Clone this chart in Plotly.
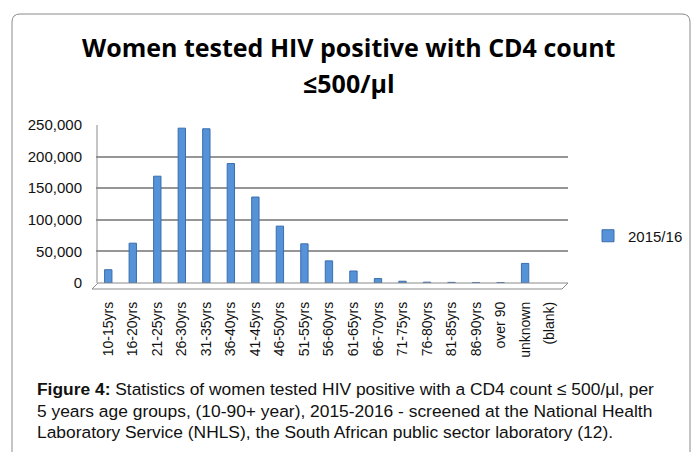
import plotly.graph_objects as go

categories = ["10-15yrs", "16-20yrs", "21-25yrs", "26-30yrs", "31-35yrs", "36-40yrs",
              "41-45yrs", "46-50yrs", "51-55yrs", "56-60yrs", "61-65yrs", "66-70yrs",
              "71-75yrs", "76-80yrs", "81-85yrs", "86-90yrs", "over 90", "unknown", "(blank)"]
values_2015_16 = [21000, 63000, 169000, 245000, 244000, 189000, 136000, 90000, 62000,
                  35000, 19000, 7000, 2800, 1300, 1000, 700, 600, 31000, 0]
series_name = "2015/16"
y_ticks = [0, 50000, 100000, 150000, 200000, 250000]
y_tick_labels = ["0", "50,000", "100,000", "150,000", "200,000", "250,000"]

W, H = 697, 452
L, R = 96, 568      # plot area pixel extents
T, B = 125, 283


def px(x):
    return (x - L) / (R - L)


def py(y):
    return (B - y) / (B - T)


fig = go.Figure()
fig.add_trace(go.Bar(
    x=list(range(len(categories))), y=values_2015_16, name=series_name,
    marker=dict(color="#5592D8",
                line=dict(color="#3A6EAE", width=[1 if v > 0 else 0 for v in values_2015_16])),
    width=0.3,
))

shapes = []
# outer rounded border
r = 8
x0, x1, y0, y1 = 12, 690, 14, 470
path = (f"M {px(x0)},{py(y1)} L {px(x0)},{py(y0 + r)} "
        f"Q {px(x0)},{py(y0)} {px(x0 + r)},{py(y0)} "
        f"L {px(x1 - r)},{py(y0)} Q {px(x1)},{py(y0)} {px(x1)},{py(y0 + r)} "
        f"L {px(x1)},{py(y1)}")
shapes.append(dict(type="path", xref="paper", yref="paper", path=path,
                   line=dict(color="#8a8a8a", width=1)))
# 3D floor
floor = (f"M {px(92)},{py(289)} L {px(562)},{py(289)} L {px(568)},{py(283)} "
         f"L {px(98)},{py(283)} Z")
shapes.append(dict(type="path", xref="paper", yref="paper", path=floor,
                   line=dict(color="#8a8a8a", width=1), fillcolor="rgba(0,0,0,0)"))
# left wall edge
shapes.append(dict(type="line", xref="paper", yref="paper",
                   x0=px(97), x1=px(97), y0=py(125), y1=py(283),
                   line=dict(color="#8a8a8a", width=1)))

annotations = [
    dict(text="<b>Women tested HIV positive with CD4 count</b>", x=px(349), y=py(47),
         xref="paper", yref="paper", showarrow=False, xanchor="center", yanchor="middle",
         font=dict(family="Open Sans", size=25, color="#000")),
    dict(text="<b>≤500/µl</b>", x=px(349), y=py(83),
         xref="paper", yref="paper", showarrow=False, xanchor="center", yanchor="middle",
         font=dict(family="Open Sans", size=25, color="#000")),
]
caption = [
    "<b>Figure 4:</b> Statistics of women tested HIV positive with a CD4 count ≤ 500/µl, per",
    "5 years age groups, (10-90+ year), 2015-2016 - screened at the National Health",
    "Laboratory Service (NHLS), the South African public sector laboratory (12).",
]
for i, line in enumerate(caption):
    annotations.append(dict(text=line, x=px(35), y=py(389 + 21.5 * i), xref="paper", yref="paper",
                            showarrow=False, xanchor="left", yanchor="middle",
                            font=dict(family="Liberation Sans", size=17.4, color="#111")))

fig.update_layout(
    width=W, height=H,
    margin=dict(l=L, r=W - R, t=T, b=H - B, autoexpand=False),
    paper_bgcolor="white", plot_bgcolor="white",
    showlegend=True,
    legend=dict(x=px(588), y=py(236), xanchor="left", yanchor="middle",
                font=dict(family="Liberation Sans", size=15, color="#111"),
                bgcolor="rgba(0,0,0,0)"),
    shapes=shapes, annotations=annotations,
    bargap=0.7,
)
fig.update_xaxes(range=[-0.5, 18.75], tickmode="array", tickvals=list(range(len(categories))),
                 ticktext=categories, tickangle=-90, showgrid=False, zeroline=False,
                 tickfont=dict(family="Liberation Sans", size=14, color="#111"), showline=False,
                 ticklabelstandoff=15)
fig.update_yaxes(range=[0, 250000], tickmode="array", tickvals=y_ticks, ticktext=y_tick_labels,
                 showgrid=True, gridcolor="#969696", gridwidth=1.5, zeroline=False,
                 tickfont=dict(family="Liberation Sans", size=15, color="#111"),
                 ticklabelstandoff=13, showline=False)

fig.write_html("out.html", post_script="document.body.style.margin='0';",
               config={"displayModeBar": False})
